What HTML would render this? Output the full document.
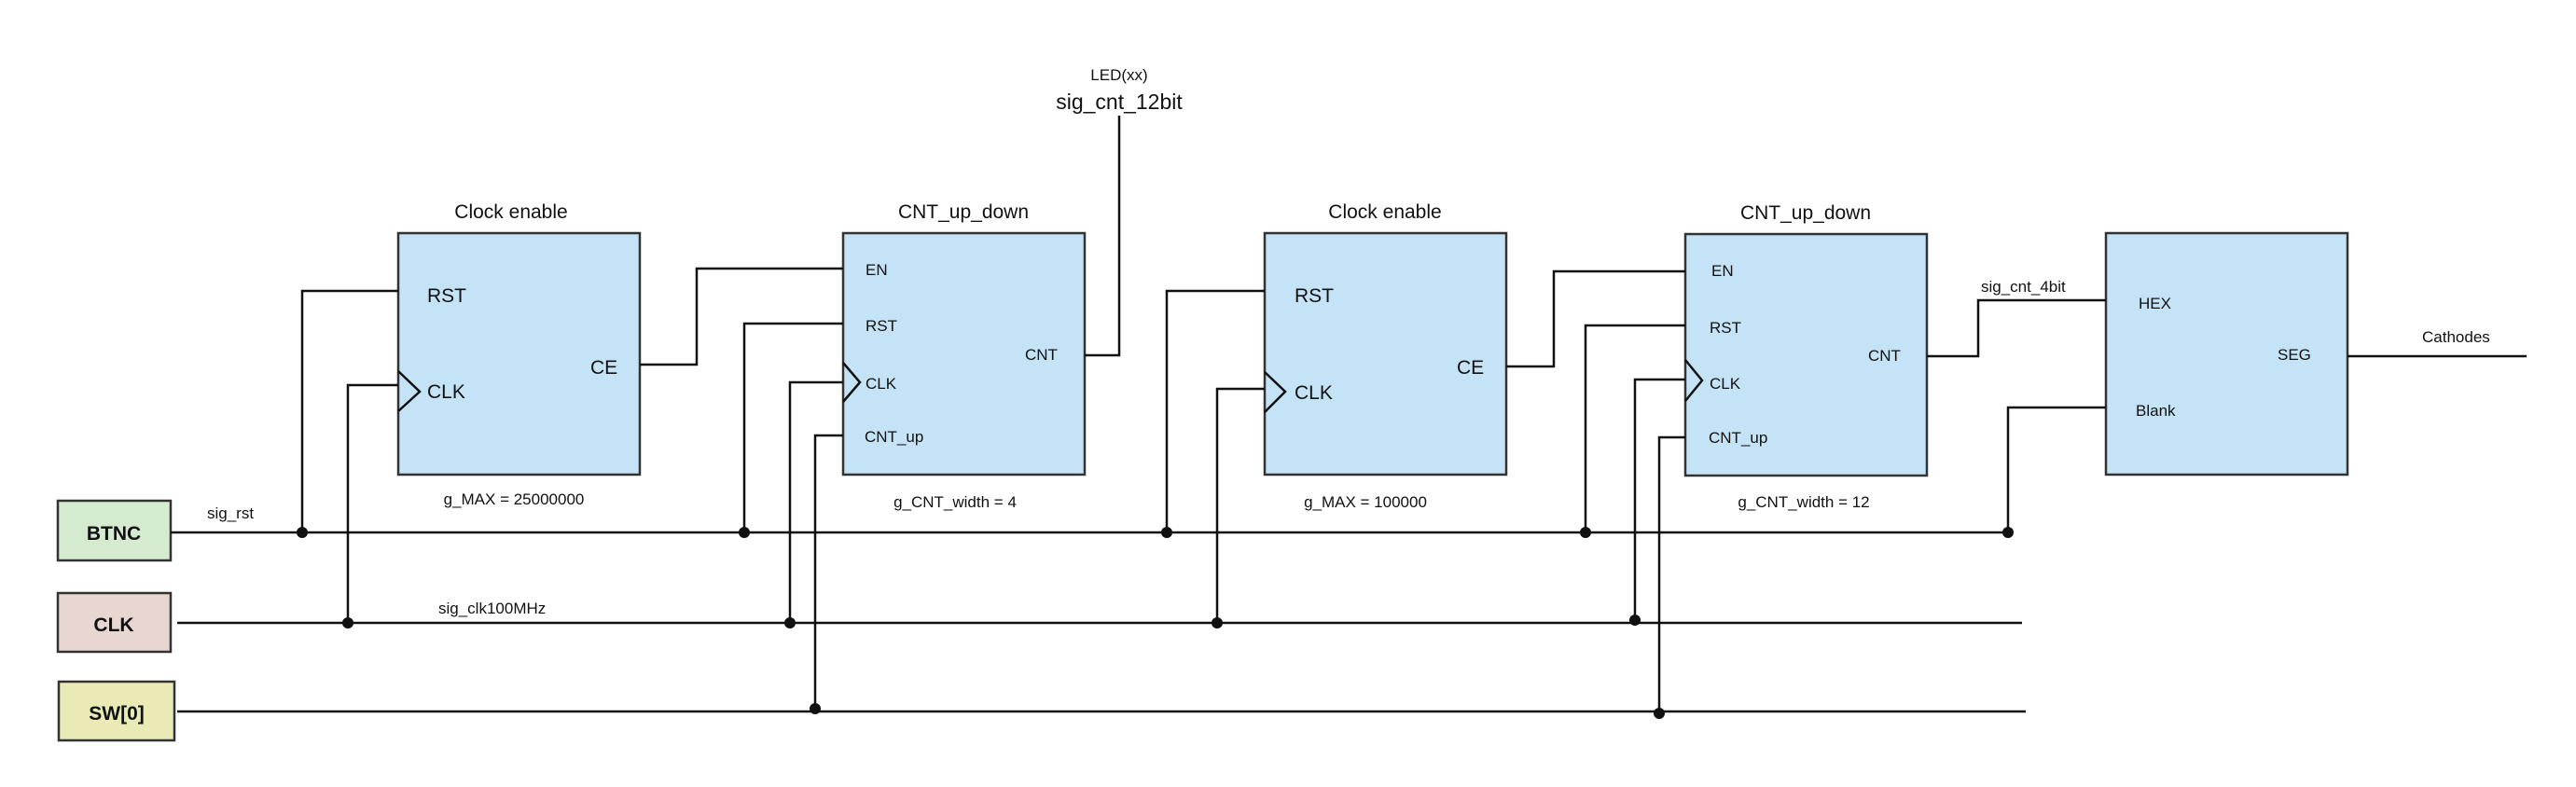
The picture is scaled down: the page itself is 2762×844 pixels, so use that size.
<!DOCTYPE html>
<html><head><meta charset="utf-8"><style>
html,body{margin:0;padding:0;background:#fff;}
svg{display:block;}
text{font-family:"Liberation Sans",sans-serif;fill:#111;}
</style></head><body>
<svg width="2762" height="844" viewBox="0 0 2762 844" xmlns="http://www.w3.org/2000/svg">
<g fill="#c5e3f6" stroke="#333" stroke-width="2.5">
<rect x="427" y="250" width="259" height="259"/>
<rect x="904" y="250" width="259" height="259"/>
<rect x="1356" y="250" width="259" height="259"/>
<rect x="1807" y="251" width="259" height="259"/>
<rect x="2258" y="250" width="259" height="259"/>
</g>
<rect x="62" y="537" width="121" height="64" fill="#d5ebd0" stroke="#333" stroke-width="2.5"/>
<rect x="62" y="636" width="121" height="63" fill="#e8d6d0" stroke="#333" stroke-width="2.5"/>
<rect x="63" y="731" width="124" height="63" fill="#e9eab5" stroke="#333" stroke-width="2.5"/>
<g fill="none" stroke="#111" stroke-width="2.5">
<!-- bus lines -->
<line x1="183" y1="571" x2="2153" y2="571"/>
<line x1="190" y1="668" x2="2168" y2="668"/>
<line x1="190" y1="763" x2="2172" y2="763"/>
<!-- box1 -->
<polyline points="324,571 324,312 427,312"/>
<polyline points="373,668 373,413 427,413"/>
<polyline points="427,398 450,420 427,441"/>
<polyline points="686,391 747,391 747,288 904,288"/>
<!-- box2 -->
<polyline points="798,571 798,347 904,347"/>
<polyline points="847,668 847,410 904,410"/>
<polyline points="904,389 922,410 904,431"/>
<polyline points="874,763 874,467 904,467"/>
<polyline points="1163,381 1200,381 1200,124"/>
<!-- box3 -->
<polyline points="1251,571 1251,312 1356,312"/>
<polyline points="1305,668 1305,417 1356,417"/>
<polyline points="1356,399 1378,420 1356,442"/>
<polyline points="1615,393 1666,393 1666,291 1807,291"/>
<!-- box4 -->
<polyline points="1700,571 1700,349 1807,349"/>
<polyline points="1753,665 1753,407 1807,407"/>
<polyline points="1807,386 1825,408 1807,430"/>
<polyline points="1779,763 1779,469 1807,469"/>
<polyline points="2066,382 2121,382 2121,322 2258,322"/>
<!-- box5 -->
<polyline points="2153,571 2153,437 2258,437"/>
<line x1="2517" y1="382" x2="2709" y2="382"/>
</g>
<g fill="#111">
<circle cx="324" cy="571" r="6"/><circle cx="798" cy="571" r="6"/><circle cx="1251" cy="571" r="6"/><circle cx="1700" cy="571" r="6"/><circle cx="2153" cy="571" r="6"/>
<circle cx="373" cy="668" r="6"/><circle cx="847" cy="668" r="6"/><circle cx="1305" cy="668" r="6"/><circle cx="1753" cy="665" r="6"/>
<circle cx="874" cy="760" r="6"/><circle cx="1779" cy="765" r="6"/>
</g>
<g font-size="21" text-anchor="middle">
<text x="548" y="234">Clock enable</text>
<text x="1033" y="234">CNT_up_down</text>
<text x="1485" y="234">Clock enable</text>
<text x="1936" y="235">CNT_up_down</text>
</g>
<g font-size="17" text-anchor="middle">
<text x="551" y="541">g_MAX = 25000000</text>
<text x="1024" y="544">g_CNT_width = 4</text>
<text x="1464" y="544">g_MAX = 100000</text>
<text x="1934" y="544">g_CNT_width = 12</text>
<text x="1200" y="86">LED(xx)</text>
</g>
<text x="1200" y="117" font-size="23" text-anchor="middle">sig_cnt_12bit</text>
<g font-size="21">
<text x="458" y="324">RST</text>
<text x="458" y="427">CLK</text>
<text x="633" y="401">CE</text>
<text x="1388" y="324">RST</text>
<text x="1388" y="428">CLK</text>
<text x="1562" y="401">CE</text>
</g>
<g font-size="17">
<text x="928" y="295">EN</text>
<text x="928" y="355">RST</text>
<text x="928" y="417">CLK</text>
<text x="1099" y="386">CNT</text>
<text x="927" y="474">CNT_up</text>
<text x="1835" y="296">EN</text>
<text x="1833" y="357">RST</text>
<text x="1833" y="417">CLK</text>
<text x="2003" y="387">CNT</text>
<text x="1832" y="475">CNT_up</text>
<text x="2293" y="331">HEX</text>
<text x="2290" y="446">Blank</text>
<text x="2442" y="386">SEG</text>
<text x="2597" y="367">Cathodes</text>
<text x="2124" y="313">sig_cnt_4bit</text>
<text x="222" y="556">sig_rst</text>
<text x="470" y="658">sig_clk100MHz</text>
</g>
<g font-size="21" font-weight="bold" text-anchor="middle">
<text x="122" y="579">BTNC</text>
<text x="122" y="677">CLK</text>
<text x="125" y="772">SW[0]</text>
</g>
</svg>
</body></html>
